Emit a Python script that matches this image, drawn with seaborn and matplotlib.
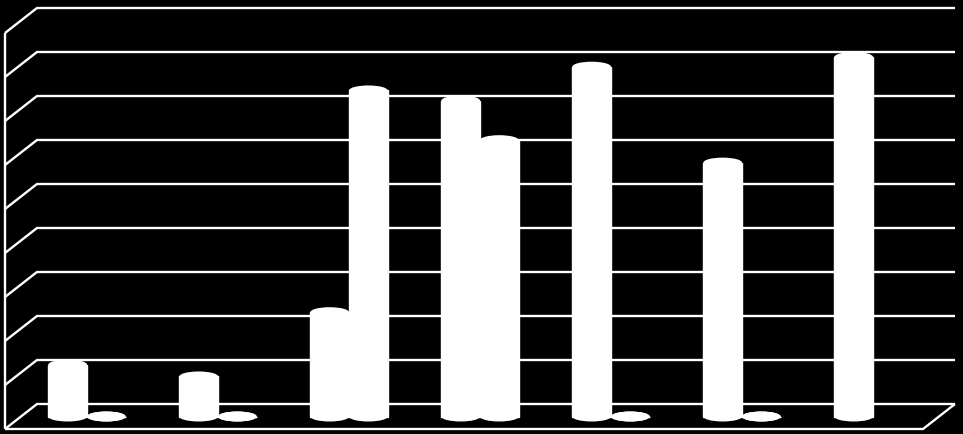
import numpy as np
import pandas as pd
import matplotlib.pyplot as plt
import seaborn as sns
from matplotlib.patches import Ellipse

categories = ["1", "2", "3", "4", "5", "6", "7"]
series_a = [1.18, 0.91, 2.37, 7.18, 7.95, 5.77, 8.17]
series_b = [0.0, 0.0, 7.41, 6.28, 0.0, 0.0, np.nan]
levels = list(range(10))

# chart box, pixels
PX_W, PX_H = 963, 434
X0_PX, X_STEP_PX = 87, 131
Y0_PX, Y_STEP_PX = 416.5, 44
DEPTH_X_PX, DEPTH_Y_PX = 32, 25
WALL_LEFT_PX, WALL_RIGHT_PX = 5, 955


def px_x(px):
    return (px - X0_PX) / X_STEP_PX


df = pd.concat([
    pd.DataFrame({"category": categories, "value": series_a, "series": "a"}),
    pd.DataFrame({"category": categories, "value": series_b, "series": "b"}),
], ignore_index=True)

sns.set_style("white")
fig = plt.figure(figsize=(PX_W / 100, PX_H / 100), dpi=100, facecolor="black")
ax = fig.add_axes([0, 0, 1, 1], facecolor="black")

sns.barplot(data=df, x="category", y="value", hue="series", order=categories,
            palette={"a": "white", "b": "white"}, width=0.59, gap=0,
            saturation=1, errorbar=None, legend=False, ax=ax, zorder=3)

# walls and floor
half_depth = DEPTH_Y_PX / 2 / Y_STEP_PX
line_style = dict(color="white", lw=1.7, zorder=1, solid_joinstyle="miter",
                  solid_capstyle="butt")
x_front = px_x(WALL_LEFT_PX)
x_back = px_x(WALL_LEFT_PX + DEPTH_X_PX)
x_right = px_x(WALL_RIGHT_PX)
x_front_right = px_x(WALL_RIGHT_PX - DEPTH_X_PX)
for level in levels:
    ax.plot([x_front, x_back, x_right],
            [level - half_depth, level + half_depth, level + half_depth],
            **line_style)
ax.plot([x_front, x_front],
        [levels[0] - half_depth, levels[-1] - half_depth], **line_style)
ax.plot([x_front, x_front_right, x_right],
        [levels[0] - half_depth, levels[0] - half_depth, levels[0] + half_depth],
        **line_style)

# round caps, so the bars read as cylinders
cap_height = 10 / Y_STEP_PX
for bar in list(ax.patches):
    height = bar.get_height()
    if np.isnan(height):
        continue
    centre = bar.get_x() + bar.get_width() / 2
    for y in (0, height):
        ax.add_patch(Ellipse((centre, y), bar.get_width(), cap_height,
                             facecolor="white", edgecolor="none", zorder=3))

ax.set_xlim(px_x(0), px_x(PX_W))
ax.set_ylim((Y0_PX - PX_H) / Y_STEP_PX, Y0_PX / Y_STEP_PX)
ax.set_xlabel("")
ax.set_ylabel("")
ax.set_xticks([])
ax.set_yticks([])
sns.despine(ax=ax, left=True, bottom=True)

plt.savefig("out.png", dpi=100, facecolor="black")
plt.close()
